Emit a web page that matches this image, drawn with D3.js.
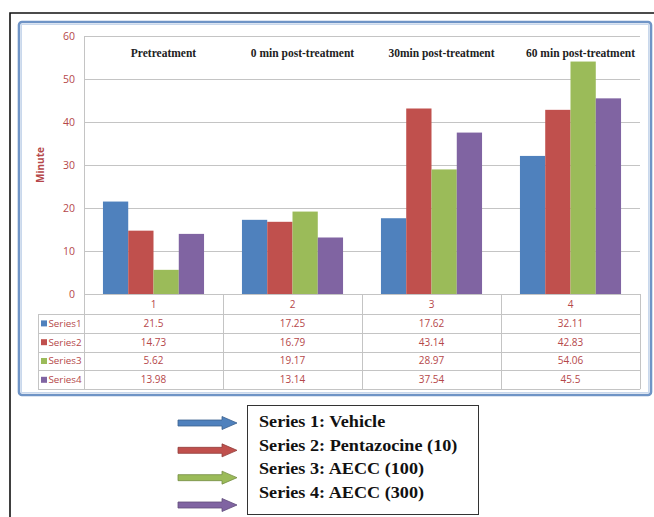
<!DOCTYPE html>
<html>
<head>
<meta charset="utf-8">
<script src="https://cdn.jsdelivr.net/npm/d3@7"></script>
<style>
  html, body { margin: 0; padding: 0; background: #fff; }
  svg { display: block; }
</style>
</head>
<body>
<svg id="chart" width="654" height="517"></svg>
<script>
// Category keys (shown in the data table header) and the phase titles above each group
const categories = ["1", "2", "3", "4"];
const phaseTitles = ["Pretreatment", "0 min post-treatment", "30min post-treatment", "60 min post-treatment"];

// Series names and their values (minutes)
const seriesNames = ["Series1", "Series2", "Series3", "Series4"];
const series1 = [21.5, 17.25, 17.62, 32.11];
const series2 = [14.73, 16.79, 43.14, 42.83];
const series3 = [5.62, 19.17, 28.97, 54.06];
const series4 = [13.98, 13.14, 37.54, 45.5];

// Y axis ticks
const yTicks = [0, 10, 20, 30, 40, 50, 60];

// Arrow legend labels below the chart
const legendLabels = ["Series 1: Vehicle", "Series 2: Pentazocine (10)", "Series 3: AECC (100)", "Series 4: AECC (300)"];

const colors = ["#4f81bd", "#c0504d", "#9bbb59", "#8064a2"];
const labelColor = "#b5474a";
const gridColor = "#c4c4c4";

const seriesValues = [series1, series2, series3, series4];

const svg = d3.select("#chart");

// Outer black frame (top and left edges)
svg.append("path")
  .attr("d", "M10,517 L10,13 L654,13")
  .attr("fill", "none")
  .attr("stroke", "#111")
  .attr("stroke-width", 1.6);

// Chart area frame
svg.append("rect")
  .attr("x", 19).attr("y", 22).attr("width", 632).attr("height", 373)
  .attr("rx", 3)
  .attr("fill", "#fff")
  .attr("stroke", "#6f94c6")
  .attr("stroke-width", 2.6);
svg.append("rect")
  .attr("x", 21.5).attr("y", 24.5).attr("width", 627).attr("height", 368)
  .attr("fill", "none")
  .attr("stroke", "#c9d8ec")
  .attr("stroke-width", 1);

const plot = { left: 84, right: 640, top: 36, bottom: 294 };

const x0 = d3.scaleBand().domain(categories).range([plot.left, plot.right]).padding(0);
const x1 = d3.scaleBand().domain(seriesNames).range([0, x0.bandwidth()]).paddingInner(0).paddingOuter(0.75);
const y = d3.scaleLinear().domain([0, 60]).range([plot.bottom, plot.top]);

// Horizontal gridlines
svg.append("g")
  .selectAll("line")
  .data(yTicks)
  .join("line")
  .attr("x1", plot.left).attr("x2", plot.right)
  .attr("y1", d => Math.round(y(d)) + 0.5).attr("y2", d => Math.round(y(d)) + 0.5)
  .attr("stroke", gridColor).attr("stroke-width", 1);

// Vertical axis line
svg.append("line")
  .attr("x1", plot.left + 0.5).attr("x2", plot.left + 0.5)
  .attr("y1", plot.top).attr("y2", plot.bottom)
  .attr("stroke", gridColor);

// Y axis labels
const yAxis = svg.append("g")
  .attr("transform", `translate(${plot.left - 9},0)`)
  .call(d3.axisLeft(y).tickValues(yTicks).tickSize(0).tickPadding(0));
yAxis.select(".domain").remove();
yAxis.selectAll("text")
  .attr("fill", labelColor)
  .attr("font-family", "'Open Sans', 'Liberation Sans', sans-serif")
  .attr("font-size", 10.5);

// Y axis title
svg.append("text")
  .attr("transform", `translate(44,${(plot.top + plot.bottom) / 2}) rotate(-90)`)
  .attr("text-anchor", "middle")
  .attr("fill", labelColor)
  .attr("font-family", "'Open Sans', 'Liberation Sans', sans-serif")
  .attr("font-weight", "bold")
  .attr("font-size", 10)
  .text("Minute");

// Bars
const groups = svg.append("g")
  .selectAll("g")
  .data(categories)
  .join("g")
  .attr("transform", d => `translate(${x0(d)},0)`);

groups.selectAll("rect")
  .data((d, i) => seriesNames.map((s, k) => ({ s, k, v: seriesValues[k][i] })))
  .join("rect")
  .attr("x", d => x1(d.s))
  .attr("width", x1.bandwidth())
  .attr("y", d => y(d.v))
  .attr("height", d => y(0) - y(d.v))
  .attr("fill", d => colors[d.k]);

// Phase titles above each group
svg.append("g")
  .selectAll("text")
  .data(phaseTitles)
  .join("text")
  .attr("x", (d, i) => x0(categories[i]) + x0.bandwidth() / 2 + 10)
  .attr("y", 57)
  .attr("text-anchor", "middle")
  .attr("font-family", "'Liberation Serif', 'Times New Roman', serif")
  .attr("font-weight", "bold")
  .attr("font-size", 11.5)
  .attr("fill", "#222")
  .text(d => d);

// Data table under the plot
const tableLeft = 38;
const headerBottom = 314;
const rowH = 18.8;
const table = svg.append("g");

// Header row: category keys
table.append("line")
  .attr("x1", plot.left).attr("x2", plot.right)
  .attr("y1", plot.bottom + 0.5).attr("y2", plot.bottom + 0.5)
  .attr("stroke", gridColor);
table.selectAll(".hdr")
  .data(categories)
  .join("text")
  .attr("class", "hdr")
  .attr("x", d => x0(d) + x0.bandwidth() / 2)
  .attr("y", (plot.bottom + headerBottom) / 2 + 4)
  .attr("text-anchor", "middle")
  .attr("fill", labelColor)
  .attr("font-family", "'Open Sans', 'Liberation Sans', sans-serif")
  .attr("font-size", 10)
  .text(d => d);

// Column separators
const colEdges = [plot.left].concat(categories.map(c => x0(c) + x0.bandwidth()));
const tableBottom = headerBottom + rowH * seriesNames.length;
table.selectAll(".vcol")
  .data(colEdges)
  .join("line")
  .attr("class", "vcol")
  .attr("x1", d => Math.round(d) + 0.5).attr("x2", d => Math.round(d) + 0.5)
  .attr("y1", plot.bottom).attr("y2", tableBottom)
  .attr("stroke", gridColor);
table.append("line")
  .attr("x1", tableLeft + 0.5).attr("x2", tableLeft + 0.5)
  .attr("y1", headerBottom).attr("y2", tableBottom)
  .attr("stroke", gridColor);

// Row separators
table.selectAll(".hrow")
  .data(d3.range(seriesNames.length + 1))
  .join("line")
  .attr("class", "hrow")
  .attr("x1", tableLeft).attr("x2", plot.right)
  .attr("y1", d => Math.round(headerBottom + d * rowH) + 0.5)
  .attr("y2", d => Math.round(headerBottom + d * rowH) + 0.5)
  .attr("stroke", gridColor);

// Row labels with colour keys
const rows = table.selectAll(".row")
  .data(seriesNames)
  .join("g")
  .attr("class", "row")
  .attr("transform", (d, i) => `translate(0,${headerBottom + i * rowH})`);

rows.append("rect")
  .attr("x", 41).attr("y", rowH / 2 - 3)
  .attr("width", 6).attr("height", 6)
  .attr("fill", (d, i) => colors[i]);

rows.append("text")
  .attr("x", 48.5)
  .attr("y", rowH / 2 + 3.5)
  .attr("fill", labelColor)
  .attr("font-family", "'Open Sans', 'Liberation Sans', sans-serif")
  .attr("font-size", 9.8)
  .text(d => d);

rows.selectAll(".val")
  .data((d, i) => seriesValues[i])
  .join("text")
  .attr("class", "val")
  .attr("x", (v, j) => x0(categories[j]) + x0.bandwidth() / 2)
  .attr("y", rowH / 2 + 3.5)
  .attr("text-anchor", "middle")
  .attr("fill", labelColor)
  .attr("font-family", "'Open Sans', 'Liberation Sans', sans-serif")
  .attr("font-size", 10)
  .text(v => v);

// Arrow legend below the chart
const legendY = d3.scalePoint().domain(legendLabels).range([423, 505]);
const arrow = svg.append("g");
arrow.selectAll("path")
  .data(legendLabels)
  .join("path")
  .attr("d", d => {
    const cy = legendY(d);
    return `M178,${cy - 3} L222,${cy - 3} L222,${cy - 6.5} L237,${cy} L222,${cy + 6.5} L222,${cy + 3} L178,${cy + 3} Z`;
  })
  .attr("fill", (d, i) => colors[i])
  .attr("stroke", (d, i) => d3.color(colors[i]).darker(0.8))
  .attr("stroke-width", 0.8);

svg.append("rect")
  .attr("x", 247.5).attr("y", 405.5).attr("width", 231).attr("height", 109)
  .attr("fill", "#fff")
  .attr("stroke", "#333")
  .attr("stroke-width", 1);

const boxY = d3.scalePoint().domain(legendLabels).range([427, 498]);
svg.append("g")
  .selectAll("text")
  .data(legendLabels)
  .join("text")
  .attr("transform", d => `translate(259,${boxY(d)}) scale(1.07,1)`)
  .attr("font-family", "'Liberation Serif', 'Times New Roman', serif")
  .attr("font-weight", "bold")
  .attr("font-size", 17)
  .attr("fill", "#111")
  .text(d => d);
</script>
</body>
</html>
